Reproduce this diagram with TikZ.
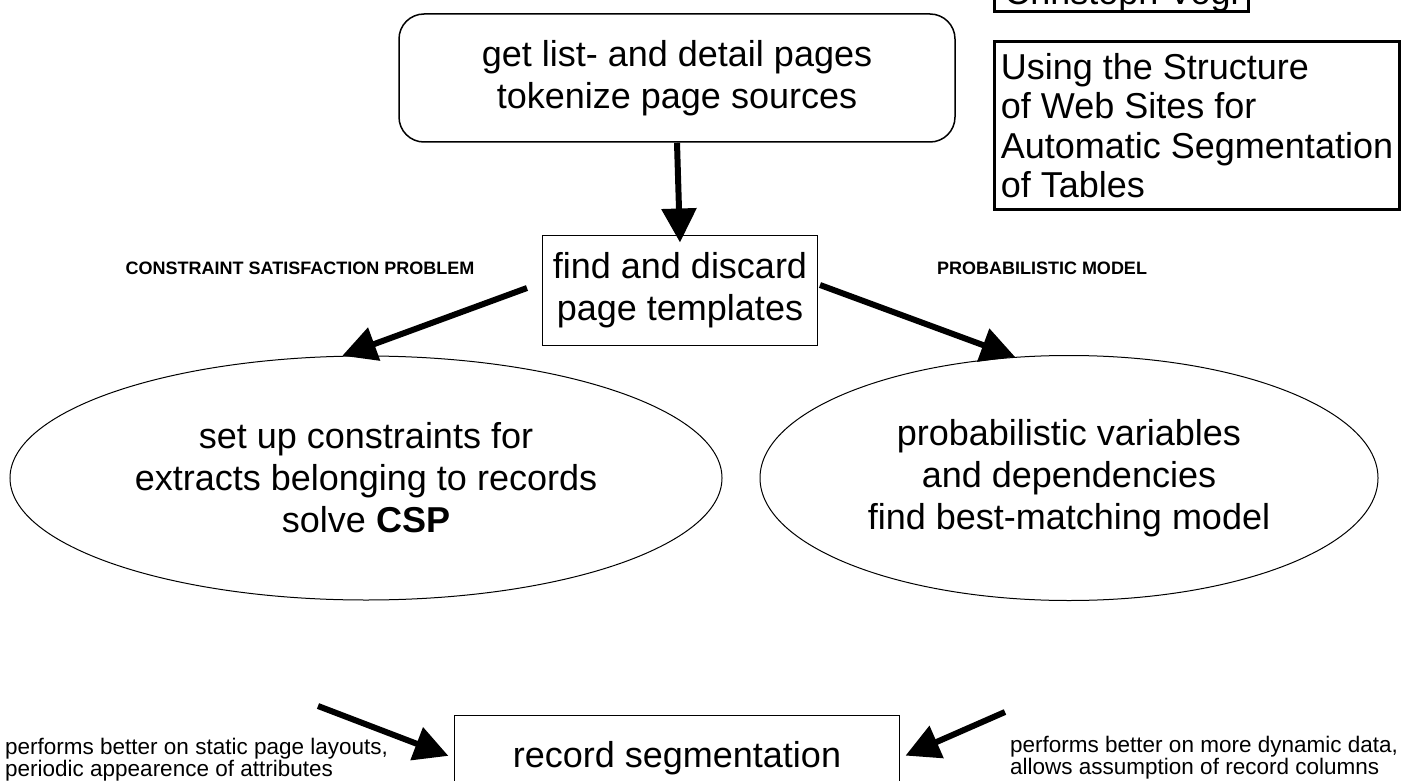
\documentclass[tikz,border=0pt]{standalone}
\usepackage{fontspec}
\setmainfont{Liberation Sans}
\usetikzlibrary{arrows.meta,shapes.geometric}
\tikzset{
    rounded-step/.style = {draw, line width=1.5pt, rectangle, rounded corners=25pt, minimum width=556pt, minimum height=128pt, align=center, font=\fontsize{36}{42}\selectfont},
    step-box/.style = {draw, line width=1pt, rectangle, align=center, font=\fontsize{36}{42}\selectfont},
    method-ellipse/.style = {draw, line width=1pt, ellipse, inner sep=0pt, align=center, font=\fontsize{36}{42}\selectfont},
    method-label/.style = {font=\fontsize{18}{20}\selectfont\bfseries},
    note-text/.style = {anchor=west, align=left, inner sep=0pt, font=\fontsize{22.5}{22}\selectfont},
    title-box/.style = {draw, line width=3pt, rectangle, anchor=north west, align=left, inner xsep=4pt, inner ysep=2pt, font=\fontsize{36}{39.5}\selectfont},
    big-arrow/.style = {line width=6pt, -{Triangle[length=34pt,width=34pt]}},
}

\begin{document}
\begin{tikzpicture}[x=1pt,y=-1pt]
\useasboundingbox (0,0) rectangle (1413,781);
\clip (0,0) rectangle (1413,781);

% title of the talk
\node[title-box, minimum width=254pt, minimum height=40pt, anchor=south west, text depth=1pt] (author) at (993,13) {Christoph Vogl};
\node[title-box, minimum width=405pt, minimum height=168pt] (title) at (993,40) {Using the Structure\\of Web Sites for\\Automatic Segmentation\\of Tables};

% process steps
\node[rounded-step] (fetch) at (677,78) {get list- and detail pages\\tokenize page sources};
\node[step-box, inner xsep=10pt, minimum height=110pt] (templates) at (680,290) {find and discard\\page templates};
\node[method-ellipse, minimum width=712pt, minimum height=244pt] (csp) at (366,478) {set up constraints for\\extracts belonging to records\\solve \textbf{CSP}};
\node[method-ellipse, minimum width=618pt, minimum height=245pt] (prob) at (1069,478) {probabilistic variables\\and dependencies\\find best-matching model};
\node[step-box, minimum width=445pt, minimum height=86pt] (record) at (677,758) {record segmentation};

% labels of the two approaches
\node[method-label] (csp-label) at (300,268) {CONSTRAINT SATISFACTION PROBLEM};
\node[method-label] (prob-label) at (1042,268) {PROBABILISTIC MODEL};

\node[note-text] (csp-note) at (5,760) {performs better on static page layouts,\\periodic appearence of attributes};
\node[note-text] (prob-note) at (1010,758) {performs better on more dynamic data,\\allows assumption of record columns};

% arrows
\coordinate (csp-tail) at (527,288);
\coordinate (prob-tail) at (820,285);
\coordinate (csp-out) at (318,706);
\coordinate (prob-out) at (1005,712);
\draw[big-arrow] (fetch.south) -- ([yshift=-8pt]templates.north);
\draw[big-arrow] (csp-tail) -- (csp.101);
\draw[big-arrow] (prob-tail) -- (prob.114);
\draw[big-arrow, shorten >=6pt] (csp-out) -- (record.west);
\draw[big-arrow, shorten >=6pt] (prob-out) -- (record.east);
\end{tikzpicture}
\end{document}
